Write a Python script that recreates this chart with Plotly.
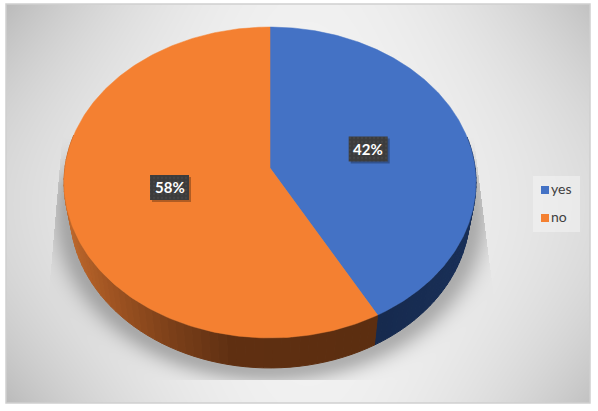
import numpy as np
import plotly.graph_objects as go

categories = ["yes", "no"]
shares = [42, 58]
face_colors = ["#4472c5", "#f48031"]
# rim colours, (screen x, colour)
rim_stops = {
    "yes": ([376, 476], [(22, 42, 78), (26, 48, 88)]),
    "no": ([64, 110, 170, 230, 376], [(190, 104, 44), (160, 84, 34), (124, 64, 26), (96, 48, 18), (92, 46, 16)]),
}

W, H = 598, 411
FX0, FY0, FX1, FY1 = 6, 4, 590, 403
CX, CY = 270, 168
PB, PA, K = 205.1, 154.1, 0.0932
DEPTH, SHRINK = 30, 0.97


def top_xy(theta, r=1.0):
    # tilted disc, perspective: far edge comes out smaller than near edge
    u, v = np.sin(theta) * r, np.cos(theta) * r
    w = 1 + K * v
    return CX + PB * u / w, CY - PA * v / w


def bottom_xy(theta):
    x, y = top_xy(theta)
    return CX + (x - CX) * SHRINK, y + DEPTH


def background():
    xs = np.arange(FX0, FX1)
    ys = np.arange(FY0, FY1)
    px, py = np.meshgrid(xs, ys)
    dx = (px - (FX0 + FX1) / 2 - 10) / ((FX1 - FX0) / 2)
    dy = (py - (FY0 + FY1) / 2) / ((FY1 - FY0) / 2)
    base = 243 - 24 * dx**2 - 3 * dy**2 - 26 * dx**2 * dy**2

    # soft shadow under the disc, cut off by a trapezoid like the reference
    r = np.sqrt(((px - CX) / 200) ** 2 + ((py - 213) / 156) ** 2)
    d = np.clip(r - 1, 0, None) * 170
    alpha = 0.27 * np.exp(-((d / 17) ** 2)) * np.clip((py - 135) / 50, 0, 1)
    left = 62 - (py - 135) * 12 / 140
    right = 473 + (py - 135) * 17 / 135
    alpha[(px < left) | (px > right) | (py > 379)] = 0
    shade = base * (1 - alpha)
    return np.stack([shade, shade, shade], axis=2).round().astype(np.uint8)


def add_box(fig, x0, x1, y0, y1, color, pattern=None):
    fig.add_trace(go.Scatter(
        x=[x0, x1, x1, x0, x0], y=[y0, y0, y1, y1, y0],
        mode="lines", fill="toself", fillcolor=color, fillpattern=pattern,
        line=dict(width=0), hoverinfo="skip",
    ))


fig = go.Figure()
fig.add_trace(go.Image(z=background(), x0=FX0 + 0.5, y0=FY0 + 0.5, dx=1, dy=1, hoverinfo="skip"))

# slice angles from the shares, clockwise from 12 o'clock
total = sum(shares)
edges = np.cumsum([0] + shares) / total * 2 * np.pi

# rim first, the top face covers whatever is behind it
for i, name in enumerate(categories):
    thetas = np.linspace(edges[i], edges[i + 1], 90)
    sx, cols = rim_stops[name]
    for a, b in zip(thetas[:-1], thetas[1:]):
        if np.cos(a) > 0.2 and np.cos(b) > 0.2:
            continue
        xa, ya = top_xy(a)
        xb, yb = top_xy(b)
        xc, yc = bottom_xy(b)
        xd, yd = bottom_xy(a)
        rgb = [np.interp((xa + xb) / 2, sx, [c[j] for c in cols]) for j in range(3)]
        col = "rgb(%d,%d,%d)" % tuple(rgb)
        fig.add_trace(go.Scatter(
            x=[xa, xb, xc, xd, xa], y=[ya, yb, yc, yd, ya],
            mode="lines", fill="toself", fillcolor=col,
            line=dict(color=col, width=1), hoverinfo="skip",
        ))

for i, name in enumerate(categories):
    thetas = np.linspace(edges[i], edges[i + 1], 240)
    ax, ay = top_xy(thetas)
    fig.add_trace(go.Scatter(
        x=np.r_[CX, ax, CX], y=np.r_[CY, ay, CY],
        mode="lines", fill="toself", fillcolor=face_colors[i],
        line=dict(color=face_colors[i], width=0.5), name=name, hoverinfo="skip",
    ))

# legend drawn by hand, plotly's own swatch gap is too wide here
add_box(fig, 533, 580, 176, 232, "rgba(245,245,245,0.5)")
legend_y = [190, 218]
for name, col, ly in zip(categories, face_colors, legend_y):
    fig.add_trace(go.Scatter(
        x=[545], y=[ly], mode="markers+text", text=[name], textposition="middle right",
        marker=dict(symbol="square", size=8, color=col),
        textfont=dict(family="Lato", size=14, color="#404040"), hoverinfo="skip",
    ))

# data labels at half radius on the middle of each slice
for i, share in enumerate(shares):
    lx, ly = top_xy((edges[i] + edges[i + 1]) / 2, 0.5)
    add_box(fig, lx - 17.5, lx + 21.5, ly - 10.5, ly + 14.5, "rgba(0,0,0,0.28)")
    add_box(fig, lx - 19.5, lx + 19.5, ly - 12.5, ly + 12.5, "#404040",
            pattern=dict(shape=".", bgcolor="#3c3c3c", fgcolor="#4e4e4e", size=4, solidity=0.25))
    fig.add_annotation(
        x=lx, y=ly, text="<b>%d%%</b>" % share, showarrow=False,
        font=dict(family="Lato", size=15, color="white"),
    )

fig.add_shape(type="rect", x0=FX0, x1=FX1, y0=FY0, y1=FY1, line=dict(color="#cfcfcf", width=1.5), fillcolor="rgba(0,0,0,0)")

fig.update_layout(
    width=W, height=H,
    margin=dict(l=0, r=0, t=0, b=0),
    paper_bgcolor="white", plot_bgcolor="white",
    showlegend=False,
    xaxis=dict(range=[0, W], visible=False, fixedrange=True),
    yaxis=dict(range=[H, 0], visible=False, fixedrange=True),
)
fig.write_html("out.html", config=dict(displayModeBar=False),
               post_script="document.body.style.margin='0';document.body.style.overflow='hidden';")
